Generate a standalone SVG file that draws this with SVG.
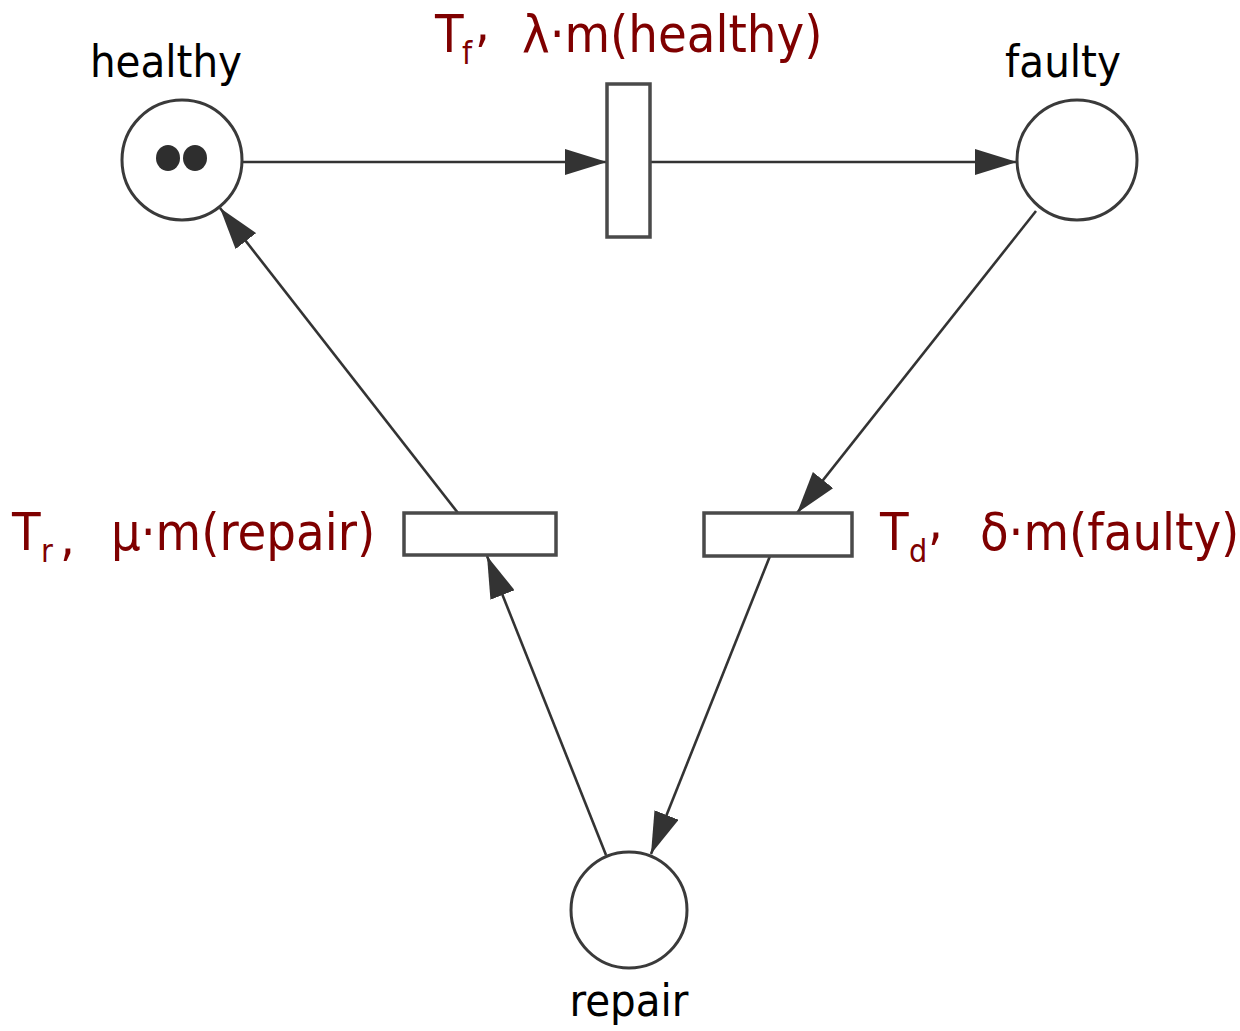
<svg xmlns="http://www.w3.org/2000/svg" width="1240" height="1031" viewBox="0 0 1240 1031">
  <style>
    .place { fill: #ffffff; stroke: #3a3a3a; stroke-width: 3; }
    .trans { fill: #ffffff; stroke: #4a4a4a; stroke-width: 3.5; }
    .token { fill: #2e2e2e; }
    .arc { stroke: #333333; stroke-width: 2.6; fill: none; marker-end: url(#head); }
    .name { font-family: "DejaVu Sans Condensed", "DejaVu Sans", sans-serif; font-size: 45px; fill: #000000; }
    .rate { font-family: "DejaVu Sans Condensed", "DejaVu Sans", sans-serif; font-size: 52px; fill: #7f0000; }
    .sub { font-size: 32px; }
  </style>
  <defs>
    <marker id="head" viewBox="0 0 42 26" refX="42" refY="13" markerWidth="42" markerHeight="26" markerUnits="userSpaceOnUse" orient="auto">
      <path d="M0,0 L42,13 L0,26 Z" fill="#333333"/>
    </marker>
  </defs>
  <rect width="1240" height="1031" fill="#ffffff"/>

  <!-- arcs between places and transitions -->
  <g id="connectors">
    <line class="arc" x1="242" y1="162" x2="607" y2="162"/>
    <line class="arc" x1="650" y1="162" x2="1017" y2="162"/>
    <line class="arc" x1="1036" y1="211" x2="797" y2="513"/>
    <line class="arc" x1="770" y1="556" x2="651" y2="854"/>
    <line class="arc" x1="606" y1="855" x2="487" y2="556"/>
    <line class="arc" x1="458" y1="513" x2="220" y2="208"/>
  </g>

  <!-- places -->
  <g id="healthy">
    <circle class="place" cx="182" cy="160" r="60"/>
    <ellipse class="token" cx="168" cy="158" rx="12" ry="13"/>
    <ellipse class="token" cx="195" cy="158" rx="12" ry="13"/>
    <text class="name" x="166" y="77" text-anchor="middle">healthy</text>
  </g>
  <g id="faulty">
    <circle class="place" cx="1077" cy="160" r="60"/>
    <text class="name" x="1063" y="77" text-anchor="middle">faulty</text>
  </g>
  <g id="repair">
    <circle class="place" cx="629" cy="910" r="58"/>
    <text class="name" x="629" y="1016" text-anchor="middle">repair</text>
  </g>

  <!-- timed transitions -->
  <g id="Tf">
    <rect class="trans" x="607" y="84" width="43" height="153"/>
    <text class="rate" x="435" y="52">T<tspan class="sub" x="462" y="64">f</tspan><tspan x="475" y="41">,</tspan><tspan x="522" y="52">λ·m(healthy)</tspan></text>
  </g>
  <g id="Tr">
    <rect class="trans" x="404" y="513" width="152" height="42"/>
    <text class="rate" x="12" y="550">T<tspan class="sub" x="41" y="562">r</tspan><tspan x="60" y="555">,</tspan><tspan x="111" y="550">μ·m(repair)</tspan></text>
  </g>
  <g id="Td">
    <rect class="trans" x="704" y="513" width="148" height="43"/>
    <text class="rate" x="880" y="550">T<tspan class="sub" x="909" y="562">d</tspan><tspan x="928" y="539">,</tspan><tspan x="980" y="550">δ·m(faulty)</tspan></text>
  </g>
</svg>
